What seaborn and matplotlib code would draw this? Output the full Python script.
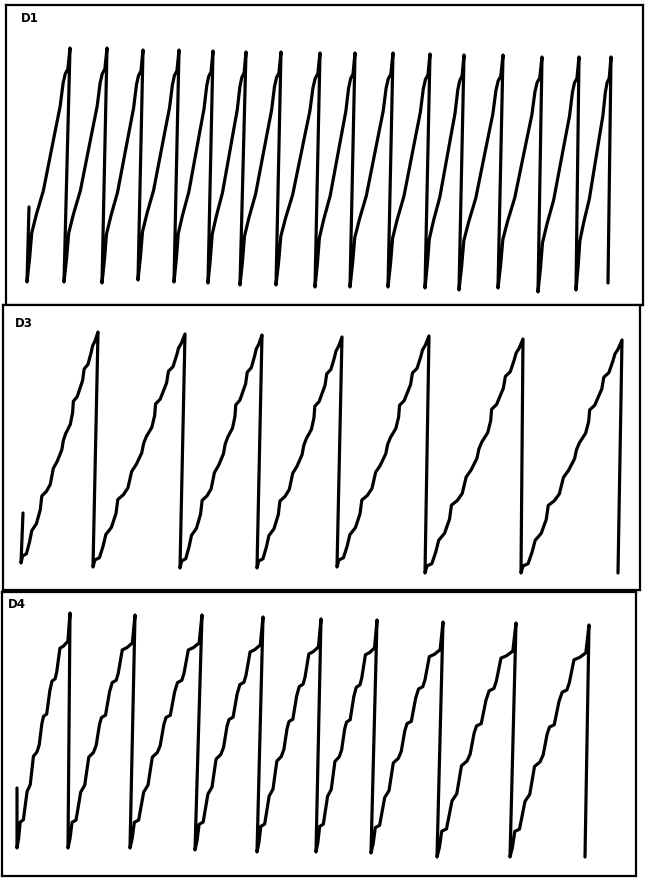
import matplotlib
matplotlib.use("Agg")
import matplotlib.pyplot as plt
import seaborn as sns
import pandas as pd

sns.set_style("white")
plt.rcParams['font.family'] = ['DejaVu Sans']

# 패널 라벨
labels = ["D1", "D3", "D4"]

# 톱니파 꼭짓점 (그림에서 읽은 값, 가로=시간, 세로=레벨; 세로축은 아래로 증가)
d1_start = (29, 207)
d1_peak_t = [70, 107, 143, 179, 213, 246, 281, 320, 355, 393, 430, 464, 503, 542, 579, 611]
d1_peak_v = [48, 48, 50, 50, 51, 52, 52, 53, 53, 53, 54, 55, 55, 57, 57, 57]
d1_low_t = [27, 64, 102, 138, 174, 208, 240, 276, 315, 350, 388, 425, 459, 498, 538, 576, 608]
d1_low_v = [282, 282, 283, 280, 282, 283, 285, 285, 287, 287, 287, 288, 290, 288, 292, 290, 283]

d3_start = (23, 513)
d3_peak_t = [98, 185, 262, 342, 429, 523, 622]
d3_peak_v = [332, 334, 335, 337, 336, 339, 340]
d3_low_t = [21, 93, 180, 257, 337, 425, 521, 618]
d3_low_v = [563, 567, 568, 568, 567, 573, 573, 573]

d4_start = (17, 788)
d4_peak_t = [70, 135, 202, 263, 321, 377, 443, 516, 589]
d4_peak_v = [613, 615, 615, 617, 619, 620, 622, 623, 625]
d4_low_t = [17, 68, 130, 195, 257, 316, 371, 437, 510, 585]
d4_low_v = [848, 848, 848, 850, 852, 852, 853, 857, 857, 857]

# 상승 구간 모양 (한 톱니에서 읽은 비율: 가로 비율, 세로 비율)
d1_shape = [(0, 0), (0.06, 0.10), (0.11, 0.21), (0.22, 0.29), (0.38, 0.39), (0.53, 0.53),
            (0.65, 0.64), (0.77, 0.75), (0.84, 0.85), (0.89, 0.89), (0.95, 0.91), (1, 1)]
d3_shape = [(0, 0), (0.02, 0.03), (0.07, 0.04), (0.11, 0.09), (0.14, 0.14), (0.20, 0.17),
            (0.25, 0.23), (0.27, 0.29), (0.33, 0.31), (0.38, 0.34), (0.42, 0.41), (0.47, 0.44),
            (0.53, 0.49), (0.55, 0.53), (0.58, 0.56), (0.64, 0.60), (0.67, 0.65), (0.68, 0.70),
            (0.73, 0.72), (0.80, 0.79), (0.82, 0.84), (0.87, 0.86), (0.91, 0.91), (0.93, 0.94),
            (0.96, 0.96), (1, 1)]
d4_shape = [(0, 0), (0.03, 0.04), (0.06, 0.11), (0.12, 0.12), (0.16, 0.19), (0.19, 0.24),
            (0.25, 0.27), (0.28, 0.33), (0.31, 0.39), (0.38, 0.41), (0.42, 0.44), (0.47, 0.53),
            (0.50, 0.56), (0.56, 0.57), (0.62, 0.67), (0.66, 0.71), (0.72, 0.72), (0.75, 0.75),
            (0.81, 0.85), (0.88, 0.86), (0.96, 0.88), (1, 1)]

# 패널 영역 (가로 왼쪽, 오른쪽, 세로 위, 아래)
boxes = [(6, 643, 5, 305), (3, 640, 305, 590), (2, 636, 592, 876)]
label_pos = [(21, 19), (15, 324), (8, 604)]


def build_wave(start, peak_t, peak_v, low_t, low_v, shape):
    """톱니파 좌표 생성"""
    ts = [start[0]]
    vs = [start[1]]
    for i in range(len(peak_t)):
        bt, bv = low_t[i], low_v[i]
        pt, pv = peak_t[i], peak_v[i]
        for fx, fy in shape:
            ts.append(bt + fx * (pt - bt))
            vs.append(bv + fy * (pv - bv))
    ts.append(low_t[-1])
    vs.append(low_v[-1])
    return pd.DataFrame({'t': ts, 'v': vs})


waves = [
    build_wave(d1_start, d1_peak_t, d1_peak_v, d1_low_t, d1_low_v, d1_shape),
    build_wave(d3_start, d3_peak_t, d3_peak_v, d3_low_t, d3_low_v, d3_shape),
    build_wave(d4_start, d4_peak_t, d4_peak_v, d4_low_t, d4_low_v, d4_shape),
]

W, H = 649, 886
fig = plt.figure(figsize=(W / 100, H / 100), dpi=100)
fig.patch.set_facecolor('white')

for wave, box, lab, lp in zip(waves, boxes, labels, label_pos):
    left, right, top, bottom = box
    ax = fig.add_axes([left / W, 1 - bottom / H, (right - left) / W, (bottom - top) / H])
    sns.lineplot(data=wave, x='t', y='v', sort=False, estimator=None, color='black',
                 linewidth=2.3, ax=ax, solid_joinstyle='round', solid_capstyle='round')
    ax.set_xlim(left, right)
    ax.set_ylim(bottom, top)
    ax.set_xticks([])
    ax.set_yticks([])
    ax.set_xlabel('')
    ax.set_ylabel('')
    for sp in ax.spines.values():
        sp.set_visible(True)
        sp.set_color('black')
        sp.set_linewidth(1.6)
    ax.text(lp[0], lp[1], lab, fontsize=8.5, fontweight='heavy', ha='left', va='center',
            color='black')

fig.savefig('out.png', dpi=100, facecolor='white')
